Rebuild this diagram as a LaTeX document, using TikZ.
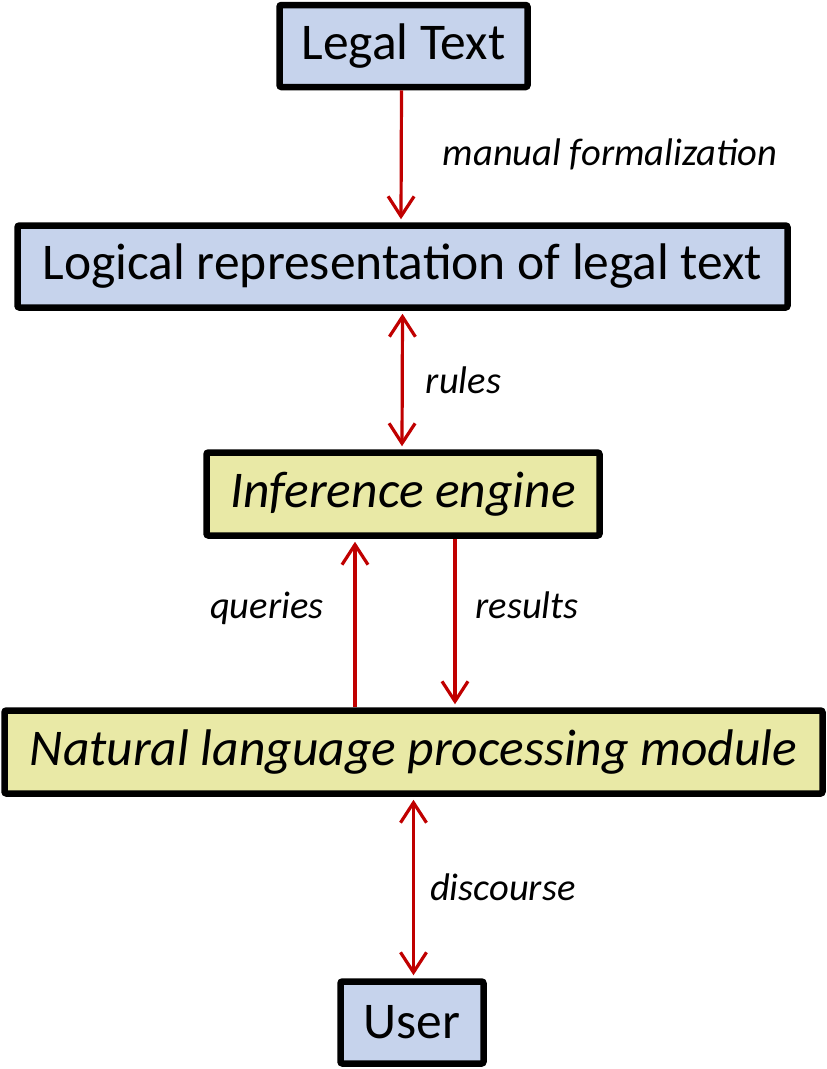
\documentclass[tikz,border=0pt]{standalone}
\usepackage{fontspec}
\setmainfont{Carlito}
\usetikzlibrary{arrows.meta,positioning}
\definecolor{boxblue}{RGB}{198,211,236}
\definecolor{boxyellow}{RGB}{233,233,166}
\definecolor{flowred}{RGB}{192,0,0}

\begin{document}
\begin{tikzpicture}[x=1pt,y=-1pt,
    box/.style={draw=black,line width=6.5pt,rounded corners=2pt,inner sep=0pt,
                font=\fontsize{51.5}{60}\selectfont},
    bluebox/.style={box,fill=boxblue},
    yellowbox/.style={box,fill=boxyellow,font=\fontsize{51.5}{60}\selectfont\itshape},
    flow/.style={draw=flowred,line width=3.2pt,
                 arrows={-Straight Barb[length=20pt,width=26pt]}},
    twoway/.style={flow,arrows={Straight Barb[length=20pt,width=26pt]-Straight Barb[length=20pt,width=26pt]}},
    lbl/.style={font=\fontsize{38.5}{44}\selectfont\itshape,inner sep=0pt}]
        \useasboundingbox (0,0) rectangle (827,1069);
        \node[bluebox,minimum width=248pt,minimum height=82pt]
          (legal) at (403.5,46) {Legal Text};
        \node[bluebox,minimum width=770pt,minimum height=82pt]
          (logic) at (402.5,266.5) {Logical representation of legal text};
        \node[yellowbox,minimum width=393pt,minimum height=83pt]
          (infer) at (403,494) {Inference engine};
        \node[yellowbox,minimum width=818pt,minimum height=83pt]
          (nlp) at (413.5,752) {Natural language processing module};
        \node[bluebox,minimum width=143pt,minimum height=82pt]
          (user) at (412,1022.5) {User};
        % connectors
        \draw[flow] ([xshift=-2pt]legal.south) -- ([xshift=-1.5pt,yshift=3pt]logic.north)
          node[midway,right=40pt,lbl]{manual formalization};
        \draw[twoway] ([yshift=-3pt]logic.south) -- ([xshift=-1pt,yshift=3pt]infer.north)
          node[midway,right=22pt,lbl]{rules};
        \draw[flow] ([xshift=-58.5pt]nlp.north) -- ([xshift=-48pt,yshift=-3pt]infer.south)
          node[pos=0.6,left=30pt,lbl]{queries};
        \draw[flow] ([xshift=52pt]infer.south) -- ([xshift=41.5pt,yshift=3pt]nlp.north)
          node[pos=0.4,right=19pt,lbl]{results};
        \draw[twoway] ([yshift=-3pt]nlp.south) -- ([xshift=1.5pt,yshift=3pt]user.north)
          node[midway,right=15pt,lbl]{discourse};
\end{tikzpicture}
\end{document}
